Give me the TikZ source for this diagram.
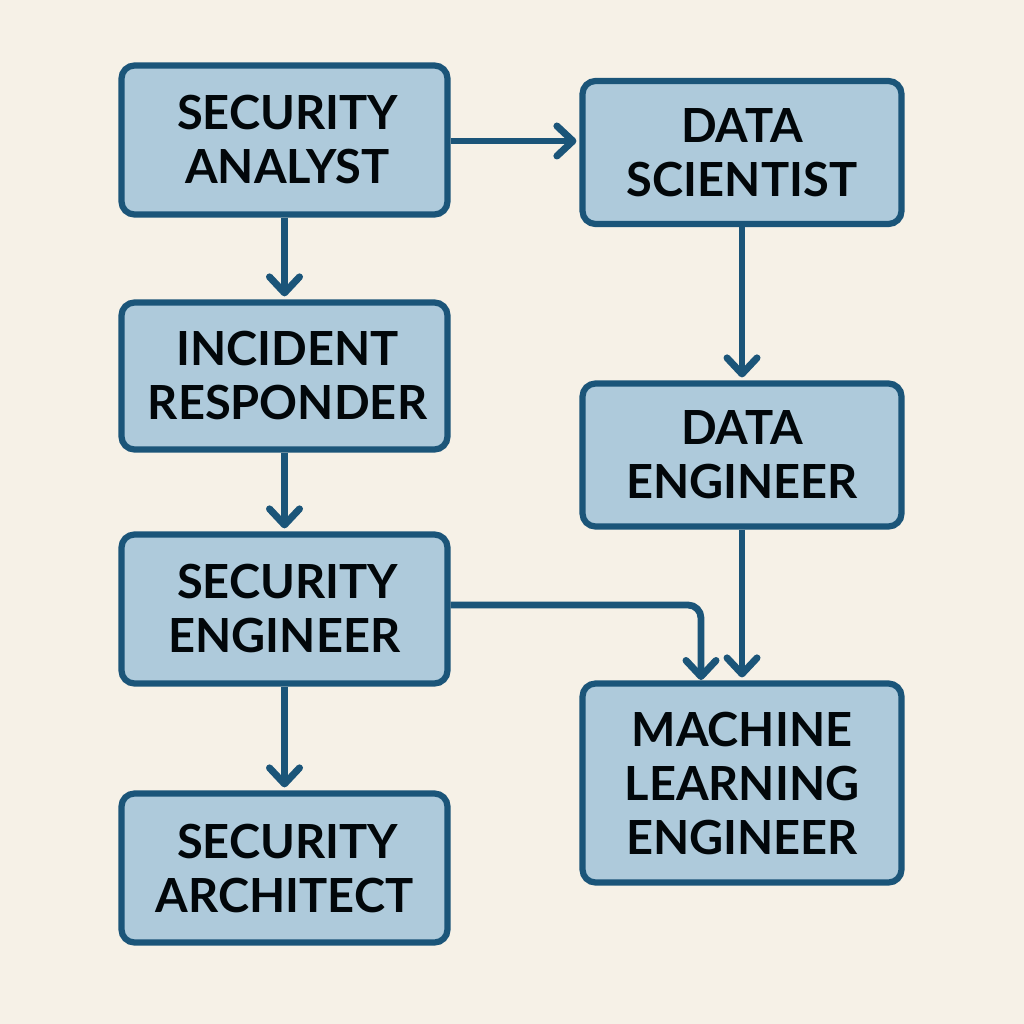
\documentclass[tikz,border=0pt]{standalone}
\usepackage{fontspec}
\setmainfont{Lato}
\usetikzlibrary{arrows.meta}
\definecolor{bgc}{HTML}{F6F1E7}
\definecolor{boxc}{HTML}{AECADB}
\definecolor{linec}{HTML}{1B5579}
\newcommand{\nudge}{\hspace*{6pt}}
\tikzset{
 rolebox/.style={draw=linec,fill=boxc,line width=6.2pt,rounded corners=13pt,inner sep=0pt,align=center,font=\fontsize{47}{54}\selectfont\bfseries\color{black!92!linec}},
 link/.style={draw=linec,line width=6.8pt,shorten >=3pt,-{Straight Barb[length=16pt,width=30pt,line width=7pt,round]}}
}
\begin{document}
\begin{tikzpicture}[x=1pt,y=-1pt]
\useasboundingbox[fill=bgc] (0,0) rectangle (1024,1024);
\node[rolebox,minimum width=326pt,minimum height=149pt] (sa) at (284.5,140) {\nudge SECURITY\\\nudge ANALYST};
\node[rolebox,minimum width=326pt,minimum height=147pt] (ir) at (284.5,376) {\nudge INCIDENT\\\nudge RESPONDER};
\node[rolebox,minimum width=326pt,minimum height=149pt] (se) at (284.5,609) {\nudge SECURITY\\ENGINEER};
\node[rolebox,minimum width=326pt,minimum height=149pt] (ar) at (284.5,868) {\nudge SECURITY\\ARCHITECT};
\node[rolebox,minimum width=319pt,minimum height=143pt] (ds) at (742,152.5) {DATA\\SCIENTIST};
\node[rolebox,minimum width=319pt,minimum height=143pt] (de) at (742,455) {DATA\\ENGINEER};
\node[rolebox,minimum width=319pt,minimum height=199pt] (ml) at (742,783) {MACHINE\\LEARNING\\ENGINEER};
\draw[link] (sa.south) -- (ir.north);
\draw[link] (ir.south) -- (se.north);
\draw[link] (se.south) -- (ar.north);
\draw[link] (sa.east |- 0,141) -- (ds.west |- 0,141);
\draw[link] (ds.south) -- (de.north);
\draw[link] (de.south) -- (ml.north);
\draw[link,rounded corners=13pt] (se.east |- 0,605) -- (701,605) -- (701,683);
\end{tikzpicture}
\end{document}
